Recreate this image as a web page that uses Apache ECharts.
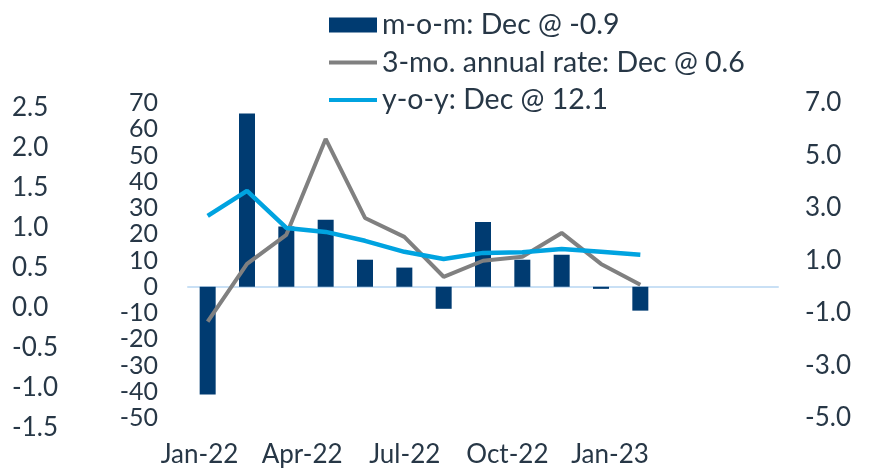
<!DOCTYPE html>
<html>
<head>
<meta charset="utf-8">
<script src="https://cdn.jsdelivr.net/npm/echarts@6/dist/echarts.min.js"></script>
<style>
  html, body { margin: 0; padding: 0; background: #fff; }
  #chart { width: 869px; height: 470px; }
</style>
</head>
<body>
<div id="chart"></div>
<script>
// monthly categories the marks sit on (the plot runs a bit past Dec-22)
const months = ['Jan-22', 'Feb-22', 'Mar-22', 'Apr-22', 'May-22', 'Jun-22', 'Jul-22',
  'Aug-22', 'Sep-22', 'Oct-22', 'Nov-22', 'Dec-22', 'Jan-23', 'Feb-23', 'Mar-23']
// date labels along the bottom (separate, shorter axis in the original)
const dateLabels = ['Jan-22', 'Feb-22', 'Mar-22', 'Apr-22', 'May-22', 'Jun-22', 'Jul-22',
  'Aug-22', 'Sep-22', 'Oct-22', 'Nov-22', 'Dec-22', 'Jan-23']

const mom = [-4.1, 6.6, 2.3, 2.55, 1.03, 0.73, -0.84, 2.47, 1.03, 1.22, -0.08, -0.91, null, null, null]
const threeMo = [-13.3, 8.7, 19.8, 56.3, 26.2, 19.0, 3.8, 9.9, 11.4, 20.5, 8.7, 0.8, null, null, null]
const yoy = [27.0, 36.5, 22.4, 20.9, 17.5, 13.3, 10.6, 12.9, 13.1, 14.4, 13.3, 12.2, null, null, null]

const names = ['m-o-m: Dec @ -0.9', '3-mo. annual rate: Dec @ 0.6', 'y-o-y: Dec @ 12.1']

const txt = '#273746'
const font = 'Lato'
// thin horizontal stroke centred in a 48x15 box, for the line legend entries
const lineIcon = 'path://M0,0L0,0ZM0,5.5H48V9.5H0ZM0,15L0,15Z'

const chart = echarts.init(document.getElementById('chart'), null, { renderer: 'canvas' })

chart.setOption({
  animation: false,
  textStyle: { fontFamily: font },
  legend: {
    orient: 'vertical',
    left: 324,
    top: 5,
    padding: 5,
    itemWidth: 48,
    itemHeight: 15,
    itemGap: 7.5,
    textStyle: { color: txt, fontSize: 28.5, fontFamily: font, lineHeight: 30 },
    data: [
      { name: names[0], icon: 'rect' },
      { name: names[1], icon: lineIcon },
      { name: names[2], icon: lineIcon }
    ]
  },
  grid: [
    { left: 188, right: 91, top: 103, bottom: 52 },
    { left: 199.5, right: 259, top: 108, bottom: 42 }
  ],
  xAxis: [
    {
      type: 'category',
      gridIndex: 0,
      data: months,
      boundaryGap: true,
      axisLine: { onZero: true, lineStyle: { color: '#c9e0f5', width: 2 } },
      axisTick: { show: false },
      axisLabel: { show: false },
      splitLine: { show: false }
    },
    {
      type: 'category',
      gridIndex: 1,
      data: dateLabels,
      boundaryGap: false,
      axisLine: { show: false },
      axisTick: { show: false },
      splitLine: { show: false },
      axisLabel: {
        interval: 2,
        color: txt,
        fontSize: 26,
        fontFamily: font,
        margin: 14
      }
    }
  ],
  yAxis: [
    {
      // inner left scale
      type: 'value',
      gridIndex: 0,
      position: 'left',
      min: -50,
      max: 70,
      interval: 10,
      axisLine: { show: false },
      axisTick: { show: false },
      splitLine: { show: false },
      axisLabel: { color: txt, fontSize: 25, fontFamily: font, margin: 30 }
    },
    {
      // right scale
      type: 'value',
      gridIndex: 0,
      position: 'right',
      min: -5,
      max: 7,
      interval: 1,
      axisLine: { show: false },
      axisTick: { show: false },
      splitLine: { show: false },
      axisLabel: {
        color: txt,
        fontSize: 26,
        fontFamily: font,
        margin: 27,
        align: 'left',
        formatter: (v) => (Math.abs(v % 2) === 1 ? v.toFixed(1) : '')
      }
    },
    {
      // outer left scale
      type: 'value',
      gridIndex: 1,
      position: 'left',
      min: -1.5,
      max: 2.5,
      interval: 0.5,
      axisLine: { show: false },
      axisTick: { show: false },
      splitLine: { show: false },
      axisLabel: {
        color: txt,
        fontSize: 26,
        fontFamily: font,
        align: 'left',
        margin: 187.5,
        formatter: (v) => v.toFixed(1)
      }
    }
  ],
  series: [
    {
      name: names[0],
      type: 'bar',
      xAxisIndex: 0,
      yAxisIndex: 1,
      barWidth: 16,
      itemStyle: { color: '#003b71' },
      data: mom
    },
    {
      name: names[1],
      type: 'line',
      xAxisIndex: 0,
      yAxisIndex: 0,
      symbol: 'none',
      lineStyle: { color: '#808080', width: 4 },
      itemStyle: { color: '#808080' },
      data: threeMo
    },
    {
      name: names[2],
      type: 'line',
      xAxisIndex: 0,
      yAxisIndex: 0,
      symbol: 'none',
      lineStyle: { color: '#00a3e0', width: 4.5 },
      itemStyle: { color: '#00a3e0' },
      data: yoy
    }
  ]
})
</script>
</body>
</html>
